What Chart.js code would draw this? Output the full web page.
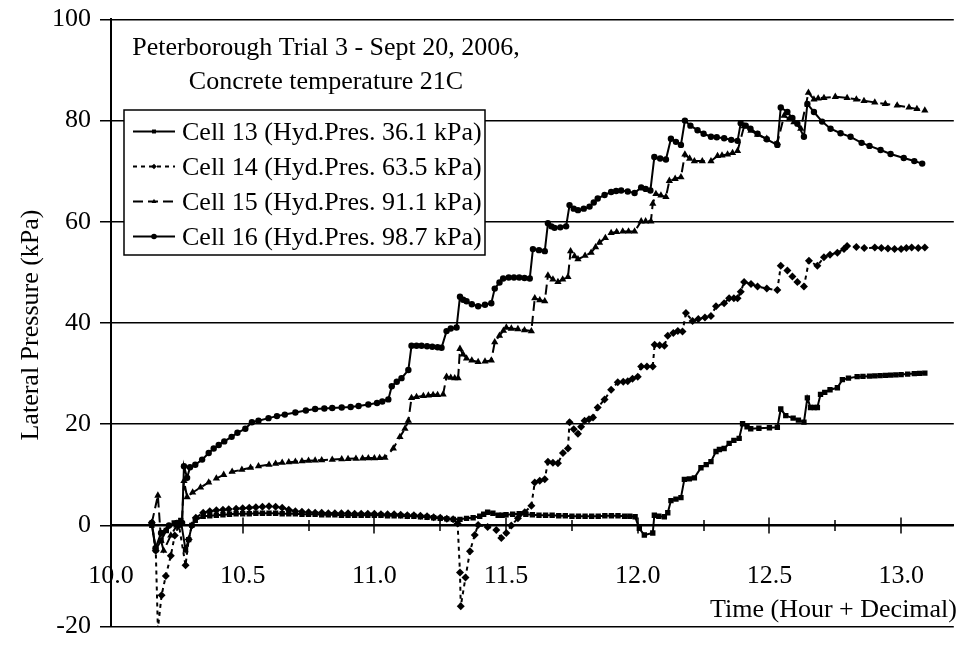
<!DOCTYPE html>
<html>
<head>
<meta charset="utf-8">
<script src="https://cdn.jsdelivr.net/npm/chart.js@4.4.1/dist/chart.umd.min.js"></script>
<style>
  html, body { margin: 0; padding: 0; background: #fff; }
  #wrap { width: 958px; height: 646px; }
</style>
</head>
<body>
<div id="wrap"><canvas id="chart" width="958" height="646"></canvas></div>
<script>
// ---------------------------------------------
// Data
// ---------------------------------------------
const seriesLabels = [
    'Cell 13 (Hyd.Pres. 36.1 kPa)',
    'Cell 14 (Hyd.Pres. 63.5 kPa)',
    'Cell 15 (Hyd.Pres. 91.1 kPa)',
    'Cell 16 (Hyd.Pres. 98.7 kPa)'
];

const cell13Time = [
    10.155, 10.17, 10.19, 10.21, 10.24, 10.265, 10.283, 10.295, 10.307, 10.32,
    10.35, 10.375, 10.40, 10.425, 10.45, 10.475, 10.50, 10.525, 10.55, 10.575,
    10.60, 10.625, 10.65, 10.675, 10.70, 10.725, 10.75, 10.775, 10.80, 10.825,
    10.85, 10.875, 10.90, 10.925, 10.95, 10.975, 11.00, 11.025, 11.05, 11.075,
    11.10, 11.125, 11.15, 11.175, 11.20, 11.225, 11.25, 11.275, 11.30, 11.325,
    11.35, 11.375, 11.40, 11.415, 11.43, 11.45, 11.47, 11.485, 11.50, 11.525,
    11.55, 11.575, 11.60, 11.625, 11.65, 11.675, 11.70, 11.725, 11.75, 11.775,
    11.80, 11.825, 11.85, 11.875, 11.90, 11.925, 11.95, 11.97, 11.99, 12.006,
    12.025, 12.057, 12.063, 12.08, 12.101, 12.114, 12.126, 12.145, 12.164, 12.177,
    12.196, 12.215, 12.24, 12.26, 12.278, 12.297, 12.31, 12.328, 12.347, 12.365,
    12.385, 12.398, 12.415, 12.429, 12.46, 12.50, 12.53, 12.543, 12.562, 12.59,
    12.61, 12.631, 12.644, 12.656, 12.67, 12.682, 12.694, 12.71, 12.73, 12.758,
    12.777, 12.80, 12.833, 12.855, 12.88, 12.90, 12.92, 12.94, 12.96, 12.98,
    13.00, 13.025, 13.05, 13.07, 13.09
];
const cell13Pres = [
    0, -4.8, -3, -1, 0.5, 1, -4.8, -2.8, 0, 1.0,
    1.8, 1.9, 2.0, 2.1, 2.2, 2.3, 2.3, 2.3, 2.4, 2.4,
    2.4, 2.4, 2.3, 2.3, 2.3, 2.2, 2.2, 2.2, 2.1, 2.1,
    2.1, 2.0, 2.0, 2.0, 2.0, 2.0, 2.0, 2.0, 1.9, 1.9,
    1.9, 1.8, 1.8, 1.7, 1.6, 1.5, 1.4, 1.3, 1.2, 1.2,
    1.4, 1.5, 1.8, 2.2, 2.6, 2.4, 2.0, 2.0, 2.1, 2.2,
    2.3, 2.2, 2.1, 2.0, 2.0, 2.0, 1.9, 1.9, 1.8, 1.8,
    1.8, 1.8, 1.8, 1.9, 1.9, 1.9, 1.8, 1.8, 1.7, -0.6,
    -1.9, -1.5, 2.0, 1.8, 1.7, 2.5, 4.9, 5.2, 5.5, 9.1,
    9.2, 9.4, 11.4, 12.0, 12.6, 14.6, 15.0, 15.2, 16.2, 16.8,
    17.2, 20.1, 19.5, 19.1, 19.2, 19.3, 19.4, 23.0, 21.7, 21.2,
    20.8, 20.4, 25.2, 23.3, 23.3, 23.3, 25.9, 26.3, 26.8, 27.2,
    28.8, 29.1, 29.4, 29.45, 29.5, 29.55, 29.6, 29.65, 29.7, 29.75,
    29.8, 29.9, 30.0, 30.05, 30.1
];

const cell14Time = [
    10.155, 10.17, 10.178, 10.192, 10.208, 10.227, 10.242, 10.258, 10.283, 10.295,
    10.307, 10.322, 10.35, 10.375, 10.40, 10.425, 10.447, 10.475, 10.50, 10.525,
    10.55, 10.575, 10.60, 10.625, 10.65, 10.675, 10.70, 10.725, 10.75, 10.775,
    10.80, 10.825, 10.85, 10.875, 10.90, 10.925, 10.95, 10.975, 11.00, 11.025,
    11.05, 11.075, 11.10, 11.125, 11.15, 11.175, 11.20, 11.225, 11.25, 11.275,
    11.299, 11.316, 11.325, 11.328, 11.346, 11.363, 11.381, 11.394, 11.43, 11.463,
    11.482, 11.501, 11.52, 11.545, 11.571, 11.596, 11.609, 11.628, 11.647, 11.659,
    11.678, 11.697, 11.716, 11.735, 11.741, 11.757, 11.773, 11.785, 11.798, 11.815,
    11.83, 11.848, 11.874, 11.899, 11.924, 11.945, 11.962, 11.98, 12.0, 12.013,
    12.035, 12.057, 12.064, 12.083, 12.101, 12.114, 12.135, 12.152, 12.17, 12.183,
    12.208, 12.23, 12.255, 12.278, 12.297, 12.328, 12.347, 12.365, 12.379, 12.391,
    12.404, 12.43, 12.455, 12.49, 12.53, 12.543, 12.568, 12.587, 12.606, 12.631,
    12.65, 12.682, 12.707, 12.73, 12.758, 12.783, 12.795, 12.83, 12.86, 12.9,
    12.925, 12.95, 12.975, 13.0, 13.02, 13.04, 13.065, 13.09
];
const cell14Pres = [
    0.5, -5, -20.5, -13.8, -10, -6, -2, 0, -7.9, -2.8,
    0, 1.5, 2.5, 2.8, 3.0, 3.1, 3.2, 3.3, 3.4, 3.5,
    3.6, 3.7, 3.8, 3.7, 3.5, 3.1, 2.8, 2.7, 2.6, 2.5,
    2.5, 2.4, 2.4, 2.4, 2.4, 2.3, 2.3, 2.3, 2.3, 2.2,
    2.2, 2.2, 2.1, 2.0, 2.0, 1.9, 1.8, 1.6, 1.5, 1.3,
    1.2, 0.4, -9.3, -16.0, -10.3, -5.1, -1.9, 0.1, -0.3, -0.9,
    -2.5, -1.5, 0, 1.4, 2.6, 3.9, 8.5, 8.8, 9.1, 12.6,
    12.4, 12.3, 14.3, 15.2, 20.4, 19.0, 18.1, 19.5, 20.7, 21.0,
    21.3, 23.3, 24.9, 26.8, 28.3, 28.4, 28.5, 29.0, 29.4, 31.4,
    31.4, 31.4, 35.7, 35.6, 35.5, 37.5, 38.0, 38.4, 38.3, 42.0,
    40.4, 40.8, 41.1, 41.4, 43.3, 43.9, 44.9, 44.9, 44.9, 46.2,
    48.1, 47.7, 47.2, 46.8, 46.5, 51.3, 50.4, 49.2, 48.1, 47.2,
    52.3, 51.3, 53.0, 53.5, 53.9, 54.6, 55.2, 55.0, 54.8, 54.9,
    54.8, 54.7, 54.6, 54.6, 54.8, 54.9, 54.8, 54.9
];

const cell15Time = [
    10.155, 10.178, 10.19, 10.2, 10.227, 10.25, 10.269, 10.277, 10.289, 10.31,
    10.34, 10.371, 10.40, 10.428, 10.46, 10.497, 10.53, 10.56, 10.60, 10.625,
    10.65, 10.675, 10.70, 10.725, 10.75, 10.775, 10.80, 10.84, 10.876, 10.90,
    10.93, 10.955, 10.977, 11.0, 11.02, 11.04, 11.072, 11.097, 11.116, 11.129,
    11.141, 11.16, 11.186, 11.205, 11.223, 11.24, 11.261, 11.274, 11.29, 11.305,
    11.318, 11.325, 11.337, 11.35, 11.37, 11.394, 11.42, 11.444, 11.457, 11.475,
    11.49, 11.501, 11.52, 11.545, 11.57, 11.596, 11.609, 11.628, 11.647, 11.659,
    11.678, 11.697, 11.715, 11.735, 11.745, 11.76, 11.773, 11.80, 11.823, 11.84,
    11.855, 11.877, 11.899, 11.92, 11.943, 11.965, 11.988, 12.013, 12.03, 12.05,
    12.057, 12.069, 12.088, 12.107, 12.12, 12.142, 12.164, 12.179, 12.197, 12.215,
    12.245, 12.278, 12.303, 12.32, 12.341, 12.36, 12.379, 12.404, 12.43, 12.455,
    12.49, 12.53, 12.556, 12.575, 12.593, 12.619, 12.648, 12.669, 12.685, 12.707,
    12.75, 12.795, 12.83, 12.859, 12.9, 12.94, 12.985, 13.03, 13.06, 13.09
];
const cell15Pres = [
    0.5, 5.9, -3, -5, -2, 0, 0.5, 8.8, 5.6, 6.5,
    7.5, 8.5, 9.3, 10.0, 10.6, 11.0, 11.4, 11.7, 12.0, 12.2,
    12.4, 12.5, 12.6, 12.7, 12.8, 12.85, 12.9, 13.0, 13.1, 13.15,
    13.2, 13.25, 13.3, 13.3, 13.35, 13.4, 15.2, 17.5, 19.1, 20.7,
    25.2, 25.4, 25.6, 25.7, 25.8, 25.8, 25.9, 29.4, 29.2, 29.1,
    29.1, 34.9, 33.8, 33.0, 32.6, 32.3, 32.4, 32.6, 36.2, 37.5,
    38.5, 39.1, 38.9, 38.8, 38.6, 38.4, 44.9, 44.5, 44.3, 49.4,
    48.6, 48.1, 48.6, 49.1, 54.2, 53.2, 52.6, 53.3, 53.9, 55.0,
    55.9, 56.8, 57.8, 58.0, 58.1, 58.1, 58.1, 60.1, 60.1, 60.1,
    63.6, 65.5, 65.2, 64.9, 68.1, 68.5, 68.8, 73.3, 72.5, 72.0,
    72.0, 72.0, 73.0, 73.1, 73.3, 73.6, 74.0, 78.9, 78.0, 77.2,
    76.4, 75.6, 81.0, 80.3, 79.7, 78.4, 85.5, 84.2, 84.4, 84.5,
    84.7, 84.5, 84.2, 83.9, 83.6, 83.3, 83.0, 82.6, 82.3, 82.0
];

const cell16Time = [
    10.155, 10.169, 10.19, 10.22, 10.25, 10.27, 10.277, 10.289, 10.30, 10.32,
    10.346, 10.371, 10.39, 10.409, 10.43, 10.458, 10.48, 10.51, 10.535, 10.56,
    10.598, 10.63, 10.66, 10.70, 10.74, 10.775, 10.81, 10.84, 10.876, 10.91,
    10.94, 10.977, 11.01, 11.03, 11.053, 11.066, 11.085, 11.103, 11.129, 11.141,
    11.16, 11.179, 11.20, 11.22, 11.24, 11.255, 11.274, 11.29, 11.312, 11.325,
    11.337, 11.35, 11.37, 11.394, 11.42, 11.444, 11.457, 11.475, 11.489, 11.51,
    11.53, 11.55, 11.57, 11.59, 11.602, 11.625, 11.647, 11.659, 11.672, 11.684,
    11.706, 11.728, 11.741, 11.757, 11.773, 11.795, 11.817, 11.833, 11.848, 11.874,
    11.899, 11.918, 11.937, 11.962, 11.988, 12.013, 12.03, 12.048, 12.063, 12.085,
    12.107, 12.126, 12.145, 12.164, 12.179, 12.20, 12.227, 12.25, 12.278, 12.30,
    12.328, 12.355, 12.379, 12.391, 12.41, 12.428, 12.455, 12.49, 12.53, 12.543,
    12.568, 12.587, 12.606, 12.631, 12.644, 12.669, 12.70, 12.732, 12.77, 12.808,
    12.85, 12.88, 12.922, 12.96, 13.01, 13.05, 13.08
];
const cell16Pres = [
    0.5, -4.5, -1.5, 0, 0.5, 0.5, 11.7, 9.4, 11.5, 12.0,
    13.0, 14.3, 15.2, 15.9, 16.6, 17.5, 18.3, 19.1, 20.4, 20.7,
    21.2, 21.6, 21.9, 22.3, 22.7, 23.0, 23.1, 23.2, 23.3, 23.4,
    23.6, 23.9, 24.2, 24.5, 24.9, 27.5, 28.4, 29.1, 30.7, 35.5,
    35.5, 35.5, 35.4, 35.3, 35.2, 35.1, 38.4, 38.9, 39.1, 45.2,
    44.6, 44.3, 43.7, 43.3, 43.6, 43.9, 46.8, 48.0, 48.8, 49.0,
    49.0, 49.0, 48.9, 48.8, 54.6, 54.4, 54.2, 59.7, 59.1, 58.8,
    58.9, 59.1, 63.3, 62.6, 62.3, 62.6, 63.0, 63.8, 64.6, 65.3,
    65.9, 66.1, 66.2, 66.0, 65.7, 66.8, 66.5, 66.2, 72.8, 72.5,
    72.3, 76.4, 75.8, 75.2, 80.0, 79.0, 78.1, 77.4, 76.8, 76.7,
    76.5, 76.2, 76.0, 79.5, 79.0, 78.4, 77.4, 76.3, 75.2, 82.6,
    81.7, 80.5, 79.4, 76.8, 83.3, 81.7, 79.8, 78.4, 77.5, 76.8,
    75.6, 75.0, 74.2, 73.4, 72.6, 72.0, 71.5
];

// axis ticks
const yTickValues = [-20, 0, 20, 40, 60, 80, 100];
const xTickLabels = ['10.0', '10.5', '11.0', '11.5', '12.0', '12.5', '13.0'];
const xMin = 10.0;
const xMax = 13.2;

const FONT = '"Liberation Serif", "Times New Roman", serif';

function toPoints(times, values) {
    return times.map((t, i) => ({ x: t, y: values[i] }));
}

// line + marker style of each cell
const seriesStyle = [
    { pointStyle: 'rect', radius: 3.8, dash: [] },
    { pointStyle: 'rectRot', radius: 4.0, dash: [4, 4] },
    { pointStyle: 'triangle', radius: 4.2, dash: [10, 5] },
    { pointStyle: 'circle', radius: 3.2, dash: [] }
];
const seriesData = [
    toPoints(cell13Time, cell13Pres),
    toPoints(cell14Time, cell14Pres),
    toPoints(cell15Time, cell15Pres),
    toPoints(cell16Time, cell16Pres)
];

const datasets = seriesLabels.map((label, i) => ({
    label: label,
    data: seriesData[i],
    borderColor: '#000',
    backgroundColor: '#000',
    borderWidth: 2,
    borderDash: seriesStyle[i].dash,
    pointStyle: seriesStyle[i].pointStyle,
    pointRadius: seriesStyle[i].radius,
    pointBorderWidth: 0,
    pointBackgroundColor: '#000',
    tension: 0
}));

function isHalfStep(v) {
    return Math.abs(v * 2 - Math.round(v * 2)) < 1e-6;
}

// =============================================
// Extra drawing: crossing ticks, texts, legend
// =============================================
const decorPlugin = {
    id: 'decor',
    afterDraw(chart) {
        const ctx = chart.ctx;
        const xs = chart.scales.x;
        const ys = chart.scales.y;
        const y0 = ys.getPixelForValue(0);

        ctx.save();
        ctx.strokeStyle = '#000';
        ctx.fillStyle = '#000';

        // tick marks crossing the time axis
        ctx.lineWidth = 1.5;
        xs.ticks.forEach(t => {
            const q = t.value / 0.25;
            if (t.value <= xMin + 1e-6 || Math.abs(q - Math.round(q)) > 1e-6) return;
            const len = isHalfStep(t.value) ? 8 : 5.5;
            const px = Math.round(xs.getPixelForValue(t.value));
            ctx.beginPath();
            ctx.moveTo(px, y0 - len);
            ctx.lineTo(px, y0 + len);
            ctx.stroke();
        });

        // chart note
        ctx.font = '26px ' + FONT;
        ctx.textAlign = 'center';
        ctx.textBaseline = 'alphabetic';
        ctx.fillText('Peterborough Trial 3 - Sept 20, 2006,', 326, 55);
        ctx.fillText('Concrete temperature 21C', 326, 89);

        // axis titles
        ctx.textAlign = 'right';
        ctx.fillText('Time (Hour + Decimal)', 957, 617);

        ctx.save();
        ctx.translate(31, 325);
        ctx.rotate(-Math.PI / 2);
        ctx.textAlign = 'center';
        ctx.textBaseline = 'middle';
        ctx.fillText('Lateral Pressure (kPa)', 0, 0);
        ctx.restore();

        // legend box
        const lx = 124, ly = 110, lw = 361, lh = 145;
        ctx.fillStyle = '#fff';
        ctx.fillRect(lx, ly, lw, lh);
        ctx.lineWidth = 1.5;
        ctx.strokeStyle = '#000';
        ctx.strokeRect(lx, ly, lw, lh);

        ctx.fillStyle = '#000';
        ctx.textAlign = 'left';
        ctx.textBaseline = 'alphabetic';
        seriesLabels.forEach((label, i) => {
            const cy = 131.5 + 35 * i;
            ctx.save();
            ctx.lineWidth = 2;
            ctx.setLineDash(seriesStyle[i].dash);
            ctx.beginPath();
            ctx.moveTo(133, cy);
            ctx.lineTo(175, cy);
            ctx.stroke();
            ctx.restore();
            Chart.helpers.drawPoint(ctx, {
                pointStyle: seriesStyle[i].pointStyle,
                radius: 2.8,
                rotation: 0,
                borderWidth: 0
            }, 154, cy);
            ctx.fillText(label, 182, cy + 8);
        });

        ctx.restore();
    }
};

// =============================================
// Chart
// =============================================
new Chart(document.getElementById('chart'), {
    type: 'line',
    data: { datasets: datasets },
    options: {
        responsive: false,
        animation: false,
        devicePixelRatio: 1,
        layout: { padding: { left: 0, right: 1, top: 15, bottom: 11 } },
        plugins: {
            legend: { display: false },
            tooltip: { enabled: false }
        },
        scales: {
            x: {
                type: 'linear',
                position: { y: 0 },
                min: xMin,
                max: xMax,
                afterFit: scale => {
                    scale.paddingLeft = 0;
                    scale.paddingRight = 0;
                },
                ticks: {
                    stepSize: 0.25,
                    includeBounds: false,
                    autoSkip: false,
                    maxRotation: 0,
                    padding: 35,
                    color: '#000',
                    font: { family: FONT, size: 26 },
                    callback: v => {
                        const s = Number(v).toFixed(1);
                        return (isHalfStep(v) && xTickLabels.includes(s)) ? s : '';
                    }
                },
                grid: { display: true, drawOnChartArea: false, drawTicks: false },
                border: { display: true, color: '#000', width: 2 }
            },
            y: {
                type: 'linear',
                min: yTickValues[0],
                max: yTickValues[yTickValues.length - 1],
                afterFit: scale => { scale.width = 111; },
                ticks: {
                    stepSize: 20,
                    padding: 9,
                    color: '#000',
                    font: { family: FONT, size: 26, lineHeight: 0.8 }
                },
                grid: {
                    color: '#000',
                    lineWidth: 1.5,
                    drawTicks: true,
                    tickLength: 11,
                    tickColor: '#000',
                    tickWidth: 1.5
                },
                border: { display: true, color: '#000', width: 2 }
            }
        }
    },
    plugins: [decorPlugin]
});
</script>
</body>
</html>
